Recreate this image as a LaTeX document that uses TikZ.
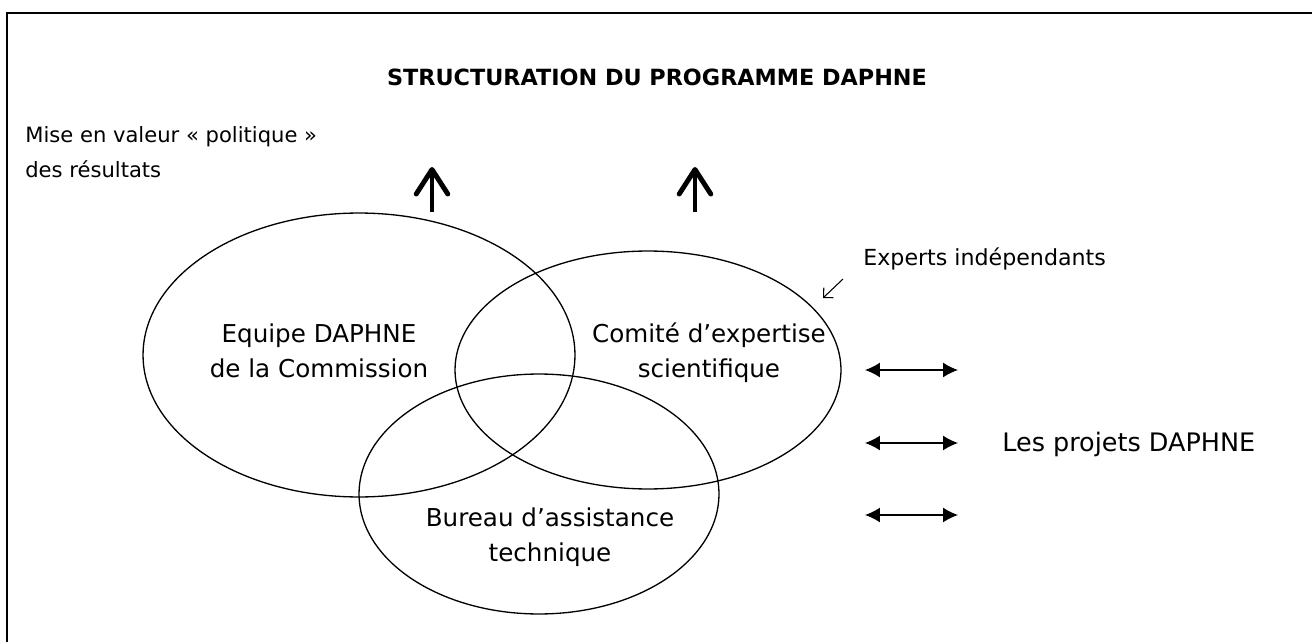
\documentclass[tikz,border=0pt]{standalone}
\usepackage{fontspec}
\setmainfont{DejaVu Sans}
\usetikzlibrary{positioning,arrows.meta,shapes.geometric}
\tikzset{>=latex}
\tikzset{
  blob/.style={ellipse,draw,line width=0.75pt,inner sep=0pt,outer sep=0pt},
  txt/.style={align=center,inner sep=0pt,font=\fontsize{14}{19.8}\selectfont},
  upar/.style={line width=2.5pt,-{Straight Barb[length=14pt,width=18pt,line width=2.8pt,round]}},
  dblar/.style={line width=0.75pt,{Latex[length=8.5pt,width=8.5pt]}-{Latex[length=8.5pt,width=8.5pt]}},
}

\begin{document}
\begin{tikzpicture}[x=0.02cm,y=-0.02cm]
\useasboundingbox (0,0) rectangle (1312,642);
\draw[line width=1.1pt] (7,642) -- (7,13) -- (1312,13);

\node[font=\bfseries\fontsize{12.7}{15}\selectfont] (titre) at(657,77){STRUCTURATION DU PROGRAMME DAPHNE};
\node[txt,align=left,anchor=base west,font=\fontsize{12}{19.8}\selectfont] (mise) at(25,177){Mise en valeur « politique »\\des résultats};

% les trois cercles
\node[blob,minimum width=8.64cm,minimum height=5.68cm] (equipe) at(359,355){};
\node[blob,minimum width=7.72cm,minimum height=4.76cm] (comite) at(648,370){};
\node[blob,minimum width=7.2cm,minimum height=4.8cm] (bureau) at(539,494){};

\node[txt,anchor=base] (t1) at(319,377){Equipe DAPHNE\\de la Commission};
\node[txt,anchor=base] (t2) at(709,377){Comité d’expertise\\scientifique};
\node[txt,anchor=base] (t3) at(550,561){Bureau d’assistance\\technique};

\node[txt,anchor=base west,font=\fontsize{12.6}{15}\selectfont] (experts) at(863,265){Experts indépendants};
\coordinate (e1) at(843,279);
\coordinate (e2) at(823,298);
\draw[line width=0.6pt,-{Straight Barb[length=4pt,width=8pt]}] (e1) -- (e2);

\node[txt,anchor=base west,font=\fontsize{14.5}{17}\selectfont] (projets) at(1002,451){Les projets DAPHNE};

\coordinate (u1) at(432,212);
\coordinate (u2) at(432,167);
\coordinate (v1) at(695,212);
\coordinate (v2) at(695,167);
\draw[upar] (u1) -- (u2);
\draw[upar] (v1) -- (v2);

\foreach \y [count=\i] in {370,443,515}{
  \coordinate (l\i) at(865,\y);
  \coordinate (r\i) at(958,\y);
  \draw[dblar] (l\i) -- (r\i);
}
\end{tikzpicture}
\end{document}
